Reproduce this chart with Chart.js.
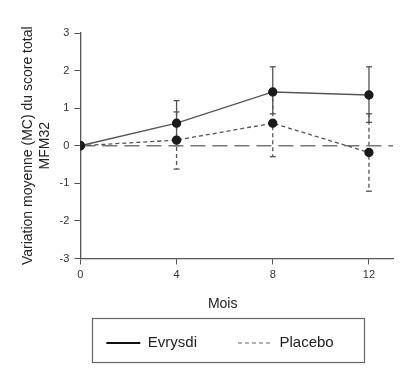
<!DOCTYPE html>
<html><head><meta charset="utf-8">
<script src="https://cdn.jsdelivr.net/npm/chart.js@4/dist/chart.umd.min.js"></script>
<style>html,body{margin:0;padding:0;background:#fff}#wrap{width:414px;height:381px}</style>
</head><body><div id="wrap"><canvas id="c" width="414" height="381"></canvas></div>
<script>
const months = [0, 4, 8, 12];
const xTicks = [0, 4, 8, 12];
const evrysdi = [0, 0.6, 1.43, 1.35];
const evrysdiUpper = [0, 1.2, 2.1, 2.1];
const evrysdiLower = [0, 0.0, 0.85, 0.62];
const placebo = [0, 0.15, 0.6, -0.18];
const placeboUpper = [0, 0.9, 1.45, 0.85];
const placeboLower = [0, -0.62, -0.29, -1.21];
const refLine = [0, 0];
const refX = [0, 13];
const seriesNames = ['Evrysdi', 'Placebo'];
const yTitle = ['Variation moyenne (MC) du score total', 'MFM32'];
const xTitle = 'Mois';

const FONT = 'Liberation Sans, Arial, sans-serif';

const errs = [
  {vals: evrysdi, up: evrysdiUpper, lo: evrysdiLower, dash: []},
  {vals: placebo, up: placeboUpper, lo: placeboLower, dash: [4, 3]}
];

const errorBars = {
  id: 'errorBars',
  beforeDatasetsDraw(chart) {
    const ctx = chart.ctx, xs = chart.scales.x, ys = chart.scales.y;
    ctx.save();
    ctx.strokeStyle = '#555';
    ctx.lineWidth = 1.3;
    errs.forEach(e => {
      ctx.setLineDash(e.dash);
      months.forEach((m, i) => {
        if (e.up[i] === e.lo[i]) return;
        const x = xs.getPixelForValue(m);
        const yu = ys.getPixelForValue(e.up[i]);
        const yl = ys.getPixelForValue(e.lo[i]);
        ctx.beginPath(); ctx.moveTo(x, yu); ctx.lineTo(x, yl); ctx.stroke();
      });
      ctx.setLineDash([]);
      months.forEach((m, i) => {
        if (e.up[i] === e.lo[i]) return;
        const x = xs.getPixelForValue(m);
        [e.up[i], e.lo[i]].forEach(v => {
          const y = ys.getPixelForValue(v);
          ctx.beginPath(); ctx.moveTo(x - 3, y); ctx.lineTo(x + 3, y); ctx.stroke();
        });
      });
    });
    ctx.restore();
  }
};

const layoutTweak = {
  id: 'layoutTweak',
  afterLayout(chart) {
    const lg = chart.legend;
    if (lg) {
      const dx = 13.5, dy = -18;
      lg.left += dx; lg.right += dx;
      lg.top += dy; lg.bottom += dy;
    }
    const xs = chart.scales.x;
    if (xs && !xs._titleShifted) {
      const orig = xs.drawTitle;
      xs.drawTitle = function () {
        const ctx = this.ctx;
        ctx.save();
        ctx.translate(-14, 0);
        orig.apply(this, arguments);
        ctx.restore();
      };
      xs._titleShifted = true;
    }
  },
  afterDraw(chart) {
    const lg = chart.legend;
    if (!lg || !lg.legendHitBoxes || !lg.legendHitBoxes.length) return;
    const hb = lg.legendHitBoxes;
    const l = Math.min(...hb.map(h => h.left)) - 14;
    const r = Math.max(...hb.map(h => h.left + h.width)) + 31;
    const t = Math.min(...hb.map(h => h.top)) - 17.5;
    const b = Math.max(...hb.map(h => h.top + h.height)) + 11.5;
    const ctx = chart.ctx;
    ctx.save();
    ctx.strokeStyle = '#666';
    ctx.lineWidth = 1.2;
    ctx.strokeRect(Math.round(l) + 0.5, Math.round(t) + 0.5, Math.round(r - l), Math.round(b - t));
    ctx.restore();
  }
};

new Chart(document.getElementById('c'), {
  type: 'line',
  data: {
    datasets: [
      {label: 'ref', data: refX.map((x, i) => ({x, y: refLine[i]})), borderColor: '#777', borderWidth: 1.5, borderDash: [15, 7], pointRadius: 0, order: 3},
      {label: seriesNames[1], data: months.map((x, i) => ({x, y: placebo[i]})), borderColor: '#555', borderWidth: 1.3, borderDash: [4, 3], pointRadius: 4, pointBackgroundColor: '#1a1a1a', pointBorderColor: '#1a1a1a', order: 2},
      {label: seriesNames[0], data: months.map((x, i) => ({x, y: evrysdi[i]})), borderColor: '#555', borderWidth: 1.3, pointRadius: 4, pointBackgroundColor: '#1a1a1a', pointBorderColor: '#1a1a1a', order: 1}
    ]
  },
  options: {
    responsive: false,
    animation: false,
    layout: {padding: {left: 20, right: 21, top: 33, bottom: 2.5}},
    plugins: {
      tooltip: {enabled: false},
      legend: {
        position: 'bottom',
        labels: {
          color: '#222',
          font: {family: FONT, size: 15},
          usePointStyle: true,
          pointStyleWidth: 34,
          padding: 41,
          generateLabels() {
            return [
              {text: seriesNames[0], pointStyle: 'line', strokeStyle: '#111', lineWidth: 2, lineDash: [], fillStyle: '#111', fontColor: '#222', datasetIndex: 2},
              {text: seriesNames[1], pointStyle: 'line', strokeStyle: '#999', lineWidth: 1.3, lineDash: [4, 3], fillStyle: '#999', fontColor: '#222', datasetIndex: 1}
            ];
          }
        }
      }
    },
    scales: {
      x: {
        type: 'linear', min: 0, max: 13,
        afterBuildTicks(s) { s.ticks = xTicks.map(v => ({value: v})); },
        grid: {display: true, drawOnChartArea: false, drawTicks: true, tickLength: 6, color: '#555'},
        border: {color: '#555', width: 1.3},
        ticks: {color: '#333', font: {family: FONT, size: 11}, padding: 3.5},
        title: {display: true, text: xTitle, color: '#222', font: {family: FONT, size: 14, lineHeight: 1.2}, padding: {top: 11, bottom: 0}}
      },
      y: {
        min: -3, max: 3,
        ticks: {stepSize: 1, color: '#333', font: {family: FONT, size: 11}, padding: 5},
        grid: {display: true, drawOnChartArea: false, drawTicks: true, tickLength: 6, color: '#555'},
        border: {color: '#555', width: 1.3},
        title: {display: true, text: yTitle, color: '#222', font: {family: FONT, size: 14, lineHeight: 1.2}, padding: {top: 0, bottom: 1}}
      }
    }
  },
  plugins: [errorBars, layoutTweak]
});
</script>
</body></html>
